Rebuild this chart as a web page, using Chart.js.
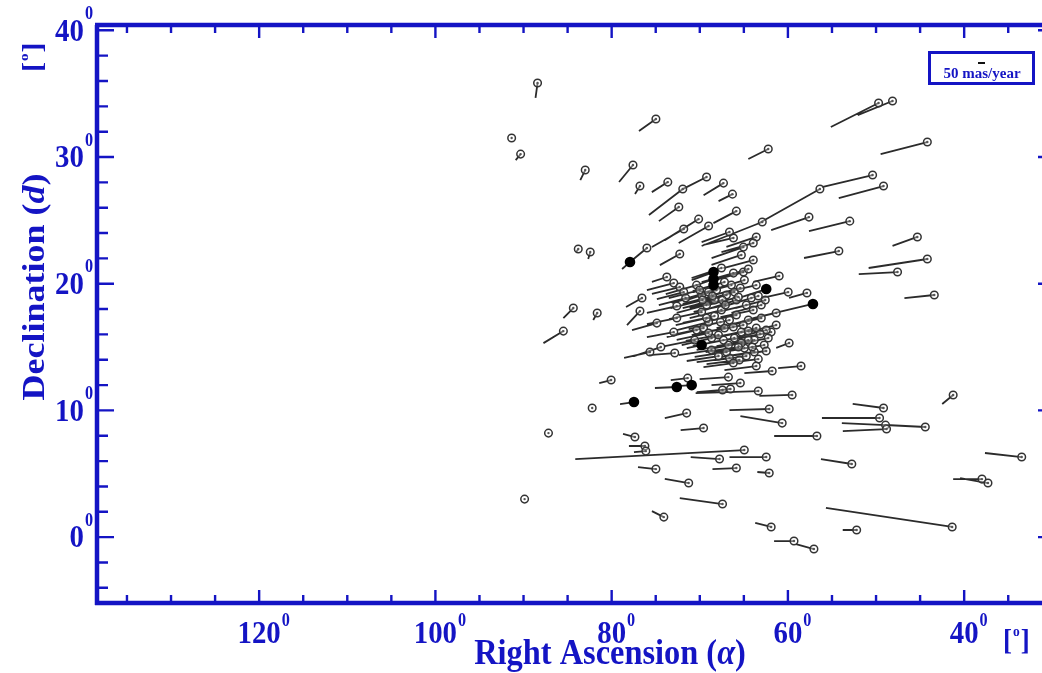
<!DOCTYPE html>
<html><head><meta charset="utf-8">
<script src="https://cdn.jsdelivr.net/npm/chart.js@4"></script>
<style>html,body{margin:0;padding:0;background:#fff}#wrap{width:1042px;height:673px}</style>
</head><body><div id="wrap"><canvas id="c" width="1042" height="673"></canvas></div>
<script>
// ---- data (degrees) ----
const ra = [
88.41,91.35,90.33,74.98,83.00,77.58,73.63,76.79,69.23,71.93,
67.31,66.29,72.38,65.85,70.13,69.00,71.82,62.23,48.13,49.71,
44.18,50.39,56.37,49.15,57.61,52.98,45.31,54.22,44.18,47.56,
43.39,57.84,57.16,62.46,59.97,60.99,59.86,62.91,41.25,49.15,
49.60,48.92,44.41,48.81,59.52,60.65,56.71,52.75,33.47,37.98,
37.30,41.36,52.20,59.31,57.05,61.90,62.12,64.95,67.76,62.46,
74.98,65.85,62.12,71.26,67.42,74.08,71.49,69.57,77.36,76.23,
76.12,80.06,77.47,72.61,70.92,82.21,87.17,89.88,63.36,66.52,
67.42,65.40,66.75,71.37,61.78,74.42,75.66,72.84,83.79,82.43,
77.92,76.00,76.56,76.79,84.35,81.64,85.48,72.27,66.63,66.18,
63.59,63.93,65.05,65.28,63.93,68.44,68.44,68.44,67.54,66.18,
65.05,64.49,64.94,73.74,72.95,72.27,71.82,71.60,72.61,72.61,
72.95,74.87,61.33,61.90,61.33,69.79,66.63,65.51,63.36,63.59,
58.51,68.10,66.97,65.85,64.15,63.02,69.23,67.54,65.85,64.49,
63.02,69.00,67.20,65.28,63.81,68.66,66.75,64.94,70.36,66.41,
63.59,69.79,62.46,70.36,69.01,67.43,66.07,64.72,63.36,69.79,
68.33,66.63,65.06,63.59,69.57,67.88,66.07,64.49,62.69,68.67,
66.97,65.28,63.81,62.23,67.20,65.40,70.58,68.33,70.02,68.55,
67.09,65.62,63.93,62.57,69.23,67.65,66.19,64.49,63.14,69.01,
67.31,65.62,64.04,62.46,67.87,66.19,64.72,69.68];
const dec = [
35.84,31.50,30.23,33.00,28.97,29.37,28.02,27.71,28.42,27.47,
27.94,27.07,26.05,25.73,25.10,24.55,24.32,30.63,34.42,34.26,
31.18,28.58,27.47,27.71,25.26,24.94,23.69,22.58,21.95,20.92,
19.11,19.27,18.40,19.58,19.34,20.61,15.32,24.87,11.22,10.19,
9.40,8.84,8.69,8.53,11.22,9.00,7.98,5.77,6.32,4.58,
4.27,0.80,0.56,-0.31,-0.94,0.80,10.11,6.87,6.16,6.32,
5.37,5.45,5.06,4.27,2.61,1.58,9.79,8.61,7.90,7.19,
6.79,12.40,10.66,11.85,12.00,10.19,8.21,3.00,11.53,11.69,
11.61,12.16,12.63,12.55,13.11,15.00,14.61,14.53,22.74,22.50,
21.71,22.82,18.87,17.84,18.08,17.69,16.26,22.34,24.08,23.61,
23.69,23.21,22.89,22.27,21.87,20.92,20.37,19.89,21.24,20.84,
20.92,21.16,20.29,20.53,20.05,19.74,19.34,18.87,18.24,17.29,
16.18,16.89,16.74,16.18,17.69,15.16,14.13,13.98,14.05,13.50,
13.50,19.50,19.11,18.71,18.87,18.32,18.32,17.92,17.53,17.13,
17.29,16.97,16.50,16.18,15.55,15.71,15.16,14.92,16.34,19.89,
19.89,19.11,16.34,19.89,19.34,18.71,19.34,18.32,19.03,17.76,
17.45,17.13,16.74,16.50,16.50,15.95,15.71,15.55,15.16,14.76,
14.61,15.32,14.61,15.71,20.13,19.66,15.55,18.71,19.50,19.03,
18.32,18.95,17.92,18.71,17.29,16.97,16.58,16.26,16.03,16.11,
15.55,15.00,15.00,14.69,14.29,13.74,14.29,18.71];
// proper-motion vector offsets (degrees on the plot)
const dRa = [
0.23,0,0.56,1.92,0.56,1.58,1.81,0.56,2.71,3.84,
2.26,1.58,2.26,2.60,3.84,3.39,3.61,2.26,3.95,5.42,
5.30,5.75,6.88,5.08,4.29,4.63,2.82,3.95,6.66,4.40,
3.39,2.03,6.77,2.82,3.05,2.93,1.47,6.88,1.24,3.50,
6.54,4.96,4.51,4.96,3.72,4.74,4.85,3.50,4.17,3.27,
3.16,14.33,1.58,2.26,2.03,1.81,4.51,19.18,3.27,4.17,
2.03,2.71,1.35,2.71,4.85,1.35,2.48,2.60,1.35,1.81,
1.35,1.35,1.58,2.48,1.69,0,0,0,7.11,2.26,
2.93,3.27,3.27,1.92,3.16,3.05,2.93,2.93,0.23,0.23,
0.90,1.92,1.81,1.47,1.13,0.45,2.26,2.26,3.16,3.39,
3.39,3.61,3.61,3.39,3.39,2.48,2.48,2.26,3.39,3.61,
3.27,3.05,3.72,1.69,3.05,3.16,3.05,3.05,3.39,3.39,
3.05,2.82,3.16,3.39,3.39,1.69,3.72,3.72,3.61,3.61,
2.60,3.39,3.61,3.61,3.39,3.39,3.39,3.61,3.61,3.61,
3.39,3.61,3.72,3.72,3.72,3.39,3.61,3.72,3.39,3.39,
3.39,3.39,3.39,3.50,3.61,3.72,3.39,3.61,3.50,3.72,
3.61,3.50,3.72,3.39,3.61,3.72,3.50,3.61,3.39,3.72,
3.61,3.50,3.72,3.39,3.61,3.50,3.39,3.61,3.50,3.39,
3.61,3.50,3.72,3.39,3.50,3.61,3.72,3.50,3.39,3.61,
3.50,3.72,3.39,3.50,3.61,3.39,3.50,3.61];
const dDec = [
-1.18,0,-0.47,-0.95,-0.79,-1.34,-0.79,-0.63,-0.95,-2.05,
-0.95,-0.55,-1.11,-0.95,-1.66,-1.34,-1.42,-0.79,-1.11,-1.89,
-0.95,-0.95,-2.68,-0.95,-1.03,-0.79,-0.71,-0.55,-0.71,-0.16,
-0.24,-0.39,-1.11,-0.63,-0.47,-0.47,-0.39,-1.89,-0.71,0.32,
0,0.16,0.16,-0.16,-0.08,0.55,0,0.39,0.32,0,
0.39,1.50,0,0,0.39,0.32,-0.08,-0.71,0.16,0,
0.16,-0.08,0.08,0.32,0.47,0.47,-0.39,-0.16,0.24,0,
-0.08,-0.24,-0.16,-0.08,-0.08,0,0,0,-0.16,-0.16,
-0.16,-0.16,-0.16,-0.16,-0.16,-0.71,-0.47,-0.16,-0.24,-0.55,
-0.55,-1.11,-0.71,-1.11,-0.79,-0.55,-0.95,-0.87,-0.79,-0.55,
-0.79,-0.71,-0.87,-0.79,-0.63,-0.63,-0.63,-0.55,-0.79,-0.71,
-0.63,-0.63,-0.79,-0.39,-0.55,-0.55,-0.55,-0.55,-0.55,-0.47,
-0.39,-0.55,-0.55,-0.47,-0.55,-0.24,-0.32,-0.32,-0.32,-0.32,
-0.16,-0.79,-0.79,-0.79,-0.71,-0.63,-0.63,-0.63,-0.55,-0.63,
-0.55,-0.63,-0.55,-0.47,-0.39,-0.55,-0.39,-0.32,-0.55,-0.63,
-0.55,-0.63,-0.55,-0.71,-0.71,-0.63,-0.63,-0.63,-0.71,-0.55,
-0.55,-0.55,-0.47,-0.55,-0.55,-0.47,-0.47,-0.47,-0.39,-0.39,
-0.39,-0.47,-0.39,-0.47,-0.71,-0.63,-0.47,-0.63,-0.63,-0.63,
-0.55,-0.63,-0.55,-0.63,-0.55,-0.55,-0.47,-0.47,-0.47,-0.55,
-0.47,-0.39,-0.39,-0.32,-0.39,-0.32,-0.32,-0.63];
// stars drawn as filled dots (indices)
const solidStars = [32,33,72,73,74,90,105,106,107,125];

const xMajorTicks = [120,100,80,60,40];
const xMinorTicks = [135,130,125,120,115,110,105,100,95,90,85,80,75,70,65,60,55,50,45,40,35];
const yMajorTicks = [40,30,20,10,0];
const yMinorTicks = [-4,-2,0,2,4,6,8,10,12,14,16,18,20,22,24,26,28,30,32,34,36,38,40];
const xRange = [31.77,138.40];
const yRange = [-5.20,40.42];
const xTitle = 'Right Ascension (';
const xTitleSym = 'α';
const yTitle = 'Declination (';
const yTitleSym = 'd';
const unitLabel = ['[','o',']'];
const scaleLabel = '50 mas/year';

// ---- build datasets ----
const vecData = [];
const openPts = [], solidPts = [];
for (let i = 0; i < ra.length; i++) {
  vecData.push({x: ra[i], y: dec[i]});
  vecData.push({x: ra[i] + dRa[i], y: dec[i] + dDec[i]});
  vecData.push({x: ra[i], y: null});
  if (solidStars.includes(i)) solidPts.push({x: ra[i], y: dec[i]});
  else openPts.push({x: ra[i], y: dec[i]});
}

const BLUE = '#1414c4';
const FONT = '"Liberation Serif","Times New Roman",serif';
const SX = 0.9;

function txt(ctx, s, x, y, px, style, align, base, sx, sy, rot) {
  ctx.save();
  ctx.translate(x, y);
  if (rot) ctx.rotate(rot);
  ctx.scale(sx || 1, sy || 1);
  ctx.font = `${style} ${px}px ${FONT}`;
  ctx.textAlign = align; ctx.textBaseline = base;
  ctx.fillText(s, 0, 0);
  ctx.restore();
}
function width(ctx, s, px, style) { ctx.font = `${style} ${px}px ${FONT}`; return ctx.measureText(s).width; }

const deco = {
  id: 'deco',
  afterDraw(chart) {
    const ctx = chart.ctx, a = chart.chartArea, xs = chart.scales.x, ys = chart.scales.y;
    const W = chart.width;
    ctx.save();
    ctx.strokeStyle = BLUE; ctx.fillStyle = BLUE;
    // ticks
    ctx.lineWidth = 2.4;
    ctx.beginPath();
    xMinorTicks.forEach(v => {
      const p = xs.getPixelForValue(v); const L = xMajorTicks.includes(v) ? 13 : 8;
      ctx.moveTo(p, a.bottom); ctx.lineTo(p, a.bottom - L);
      ctx.moveTo(p, a.top); ctx.lineTo(p, a.top + L);
    });
    yMinorTicks.forEach(v => {
      const p = ys.getPixelForValue(v); const L = yMajorTicks.includes(v) ? 17 : 11;
      ctx.moveTo(a.left, p); ctx.lineTo(a.left + L, p);
    });
    // right axis lies just beyond the picture: only the ends of the long ticks show
    yMajorTicks.forEach(v => {
      const p = ys.getPixelForValue(v);
      ctx.moveTo(W, p); ctx.lineTo(W - 4, p);
    });
    ctx.stroke();
    // frame
    ctx.lineWidth = 4.5;
    ctx.beginPath();
    ctx.moveTo(a.left, a.bottom + 2); ctx.lineTo(a.left, a.top);
    ctx.moveTo(a.left - 2, a.top); ctx.lineTo(W, a.top);
    ctx.moveTo(a.left - 2, a.bottom); ctx.lineTo(W, a.bottom);
    ctx.stroke();
    // x tick labels
    const NP = 32, SP = 18;
    xMajorTicks.forEach(v => {
      const p = xs.getPixelForValue(v);
      const s = String(v); const w = width(ctx, s, NP, 'bold') * SX;
      txt(ctx, s, p, 635, NP, 'bold', 'center', 'middle', SX);
      txt(ctx, '0', p + w / 2 + 1, 621, SP, 'bold', 'left', 'middle', SX);
    });
    // y tick labels
    yMajorTicks.forEach(v => {
      const p = ys.getPixelForValue(v);
      const s = String(v);
      const ws = width(ctx, '0', SP, 'bold') * SX;
      txt(ctx, '0', 93, p - 16, SP, 'bold', 'right', 'middle', SX);
      txt(ctx, s, 93 - ws - 1, p + 2, NP, 'bold', 'right', 'middle', SX);
    });
    // x title
    const TP = 36;
    const w1 = width(ctx, xTitle, TP, 'bold'), w2 = width(ctx, xTitleSym, TP, 'italic bold'), w3 = width(ctx, ')', TP, 'bold');
    let tot = (w1 + w2 + w3) * SX; let x0 = 610 - tot / 2;
    txt(ctx, xTitle, x0, 664, TP, 'bold', 'left', 'alphabetic', SX); x0 += w1 * SX;
    txt(ctx, xTitleSym, x0, 664, TP, 'italic bold', 'left', 'alphabetic', SX); x0 += w2 * SX;
    txt(ctx, ')', x0, 664, TP, 'bold', 'left', 'alphabetic', SX);
    // y title (rotated)
    const v1 = width(ctx, yTitle, TP, 'bold'), v2 = width(ctx, yTitleSym, TP, 'italic bold'), v3 = width(ctx, ')', TP, 'bold');
    tot = v1 + v2 + v3; let y0 = 287 + tot / 2;
    const rot = -Math.PI / 2;
    txt(ctx, yTitle, 44, y0, TP, 'bold', 'left', 'alphabetic', 1, SX, rot); y0 -= v1;
    txt(ctx, yTitleSym, 44, y0, TP, 'italic bold', 'left', 'alphabetic', 1, SX, rot); y0 -= v2;
    txt(ctx, ')', 44, y0, TP, 'bold', 'left', 'alphabetic', 1, SX, rot);
    // unit labels [o]
    const UP = 30, UO = 15;
    let ux = 1003;
    txt(ctx, unitLabel[0], ux, 650, UP, 'bold', 'left', 'alphabetic', SX); ux += width(ctx, '[', UP, 'bold') * SX;
    txt(ctx, unitLabel[1], ux + 1, 636, UO, 'bold', 'left', 'alphabetic', SX); ux += width(ctx, 'o', UO, 'bold') * SX + 2;
    txt(ctx, unitLabel[2], ux, 650, UP, 'bold', 'left', 'alphabetic', SX);
    let uy = 72;
    txt(ctx, unitLabel[0], 41, uy, UP, 'bold', 'left', 'alphabetic', 1, SX, rot); uy -= width(ctx, '[', UP, 'bold');
    txt(ctx, unitLabel[1], 28, uy - 1, UO, 'bold', 'left', 'alphabetic', 1, SX, rot); uy -= width(ctx, 'o', UO, 'bold') + 2;
    txt(ctx, unitLabel[2], 41, uy, UP, 'bold', 'left', 'alphabetic', 1, SX, rot);
    // scale legend box
    ctx.lineWidth = 3;
    ctx.strokeRect(929.5, 52.5, 104, 31);
    ctx.strokeStyle = '#111'; ctx.lineWidth = 2;
    ctx.beginPath(); ctx.moveTo(978, 63); ctx.lineTo(985, 63); ctx.stroke();
    ctx.fillStyle = BLUE;
    txt(ctx, scaleLabel, 982, 74, 15, 'bold', 'center', 'middle', 1);
    ctx.restore();
  }
};

new Chart(document.getElementById('c'), {
  type: 'scatter',
  data: {
    datasets: [
      { type: 'scatter', data: solidPts, pointRadius: 5.3, pointHoverRadius: 5.3, backgroundColor: '#000', borderColor: '#000', borderWidth: 0, order: 0 },
      { type: 'scatter', data: openPts, pointRadius: 1.2, pointHoverRadius: 1.2, backgroundColor: '#555', borderWidth: 0, order: 1 },
      { type: 'scatter', data: openPts, pointRadius: 3.8, pointHoverRadius: 3.8, backgroundColor: 'rgba(255,255,255,0.35)', borderColor: '#333', borderWidth: 1.5, order: 2 },
      { type: 'line', data: vecData, showLine: true, spanGaps: false, pointRadius: 0, borderColor: 'rgba(20,20,20,0.9)', borderWidth: 1.8, tension: 0, order: 3 }
    ]
  },
  options: {
    responsive: false,
    animation: false,
    devicePixelRatio: 1,
    layout: { padding: { left: 97, top: 25, right: 0, bottom: 70 } },
    scales: {
      x: { type: 'linear', min: xRange[0], max: xRange[1], reverse: true, display: false },
      y: { type: 'linear', min: yRange[0], max: yRange[1], display: false }
    },
    plugins: { legend: { display: false }, tooltip: { enabled: false } }
  },
  plugins: [deco]
});
</script>
</body></html>
